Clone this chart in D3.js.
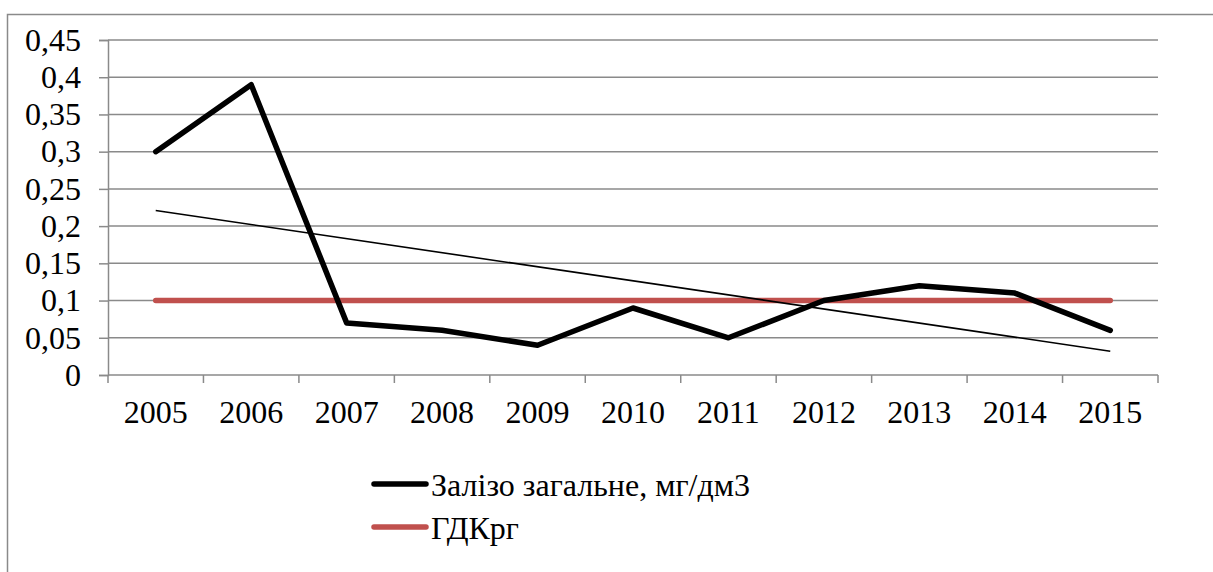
<!DOCTYPE html>
<html>
<head>
<meta charset="utf-8">
<script src="https://cdn.jsdelivr.net/npm/d3@7"></script>
<style>
html,body{margin:0;padding:0;background:#fff;}
svg{display:block;}
</style>
</head>
<body>
<svg id="chart" width="1213" height="572"></svg>
<script>
const years = ["2005","2006","2007","2008","2009","2010","2011","2012","2013","2014","2015"];
const ironValues = [0.30,0.39,0.07,0.06,0.04,0.09,0.05,0.10,0.12,0.11,0.06];
const limitValues = [0.1,0.1,0.1,0.1,0.1,0.1,0.1,0.1,0.1,0.1,0.1];
// linear trend line endpoints (first and last year)
const trendYears = ["2005","2015"];
const trendValues = [0.221,0.032];
const yTicks = [0,0.05,0.1,0.15,0.2,0.25,0.3,0.35,0.4,0.45];
const seriesNames = ["Залізо загальне, мг/дм3","ГДКрг"];

(function(){
const svg = d3.select("#chart");
const fs = "32px";
const ff = '"Liberation Serif"';
const pLeft = 108, pRight = 1158, pTop = 40, pBottom = 375;

// outer border
svg.append("path").attr("d", "M7.5,600 L7.5,14.5 L1220,14.5")
  .attr("fill","none").attr("stroke","#8a8a8a").attr("stroke-width",1.5);

const x = d3.scaleBand().domain(years).range([pLeft,pRight]).padding(0);
const y = d3.scaleLinear().domain([0,0.45]).range([pBottom,pTop]);
const cx = d => x(d) + x.bandwidth()/2;

// gridlines
svg.append("g").selectAll("line").data(yTicks.filter(t=>t>0)).join("line")
  .attr("x1",pLeft).attr("x2",pRight)
  .attr("y1",d=>y(d)).attr("y2",d=>y(d))
  .attr("stroke","#8a8a8a").attr("stroke-width",1.5);

const fmt = d => String(+d.toFixed(2)).replace(".",",");

// y axis
const yAxis = svg.append("g").attr("transform",`translate(${pLeft},0)`)
  .call(d3.axisLeft(y).tickValues(yTicks).tickFormat(fmt).tickSize(9).tickPadding(18));
yAxis.select(".domain").attr("stroke","#8a8a8a").attr("stroke-width",1.5);
yAxis.selectAll(".tick line").attr("stroke","#8a8a8a").attr("stroke-width",1.5);
yAxis.selectAll("text").style("font-family",ff).style("font-size",fs).attr("fill","#000");

// x axis: ticks at band boundaries
const xBoundaries = years.map(d=>x(d)).concat([pRight]);
const xg = svg.append("g");
xg.append("line").attr("x1",pLeft).attr("x2",pRight).attr("y1",pBottom).attr("y2",pBottom)
  .attr("stroke","#8a8a8a").attr("stroke-width",1.5);
xg.selectAll("line.tk").data(xBoundaries).join("line").attr("class","tk")
  .attr("x1",d=>d).attr("x2",d=>d).attr("y1",pBottom).attr("y2",pBottom+8)
  .attr("stroke","#8a8a8a").attr("stroke-width",1.5);
xg.selectAll("text").data(years).join("text")
  .attr("x",d=>cx(d)).attr("y",423).attr("text-anchor","middle")
  .style("font-family",ff).style("font-size",fs).attr("fill","#000").text(d=>d);

const line = d3.line().x(d=>cx(d[0])).y(d=>y(d[1]));

// limit line
svg.append("path").datum(years.map((d,i)=>[d,limitValues[i]]))
  .attr("d",line).attr("fill","none").attr("stroke","#C0504D")
  .attr("stroke-width",5.5).attr("stroke-linecap","round");

// iron series
svg.append("path").datum(years.map((d,i)=>[d,ironValues[i]]))
  .attr("d",line).attr("fill","none").attr("stroke","#000")
  .attr("stroke-width",5.5).attr("stroke-linejoin","round").attr("stroke-linecap","round");

// trend line
svg.append("path").datum(trendYears.map((d,i)=>[d,trendValues[i]]))
  .attr("d",line).attr("fill","none").attr("stroke","#000").attr("stroke-width",1.6);

// legend
const legendColors = ["#000","#C0504D"];
const lg = svg.append("g");
const rows = lg.selectAll("g").data(seriesNames).join("g")
  .attr("transform",(d,i)=>`translate(0,${484 + i*43})`);
rows.append("line").attr("x1",374).attr("x2",426).attr("y1",0).attr("y2",0)
  .attr("stroke",(d,i)=>legendColors[i]).attr("stroke-width",5.5).attr("stroke-linecap","round");
rows.append("text").attr("x",431).attr("y",12)
  .style("font-family",ff).style("font-size",fs).attr("fill","#000").text(d=>d);
})();
</script>
</body>
</html>
